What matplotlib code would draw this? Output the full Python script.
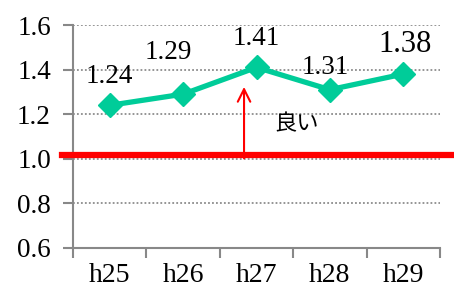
import matplotlib
matplotlib.use("Agg")
import matplotlib.pyplot as plt
import numpy as np

# data
years = ["h25", "h26", "h27", "h28", "h29"]
values = [1.24, 1.29, 1.41, 1.31, 1.38]
baseline = 1.015
y_ticks = [0.6, 0.8, 1.0, 1.2, 1.4, 1.6]
note_text = "良い"

# label offsets in pixels (manual placement like the original)
label_offsets = [(0, 29), (-15, 42), (0, 29), (-5, 22), (2, 30)]
label_sizes = [19.5, 19.5, 19.5, 19.5, 22]

plt.rcParams["font.family"] = "serif"
plt.rcParams["font.serif"] = ["Liberation Serif", "DejaVu Serif"]

GREEN = "#00CC99"
GREY = "#888888"

fig = plt.figure(figsize=(4.54, 2.91), dpi=100)
ax = fig.add_axes([0.161, 0.1478, 0.808, 0.7662])

x = np.arange(len(years))

# grid
for yv in y_ticks[1:]:
    ax.axhline(yv, color="#8c8c8c", lw=1.3, ls=(0, (1, 1.2)), zorder=1)

# red reference line, runs past the axes
ax.axhline(baseline, xmin=-0.03, xmax=1.04, color="#FF0000", lw=4.5,
           clip_on=False, zorder=3)

# arrow
ax.annotate("", xy=(1.83, 1.335), xytext=(1.83, 0.99),
            arrowprops=dict(arrowstyle="->,head_length=0.9,head_width=0.45",
                            color="#FF0000", lw=1.5),
            zorder=4)
ax.text(2.55, 1.156, note_text, fontsize=16, ha="center", va="center",
        family=["Noto Sans CJK JP", "DejaVu Sans"])

# series
ax.plot(x, values, color=GREEN, lw=3.8, marker="D", markersize=12,
        zorder=5, clip_on=False)

for xi, v, off, fs in zip(x, values, label_offsets, label_sizes):
    ax.annotate(f"{v:.2f}", xy=(xi, v), xytext=off, textcoords="offset pixels",
                ha="center", va="center", fontsize=fs)

ax.set_xlim(-0.5, len(years) - 0.5)
ax.set_ylim(0.6, 1.6)
ax.set_yticks(y_ticks)
ax.set_yticklabels([f"{t:.1f}" for t in y_ticks], fontsize=19.5)

ax.set_xticks(np.arange(-0.5, len(years)), labels=[])
ax.set_xticks(x, minor=True)
ax.set_xticklabels(years, minor=True, fontsize=20)
ax.tick_params(axis="x", which="major", length=7, color=GREY, width=1.5)
ax.tick_params(axis="x", which="minor", length=0, pad=11)
ax.tick_params(axis="y", length=7, color=GREY, width=1.5, pad=9)

for s in ["top", "right"]:
    ax.spines[s].set_visible(False)
for s in ["left", "bottom"]:
    ax.spines[s].set_color(GREY)
    ax.spines[s].set_linewidth(1.5)

fig.savefig("out.png", dpi=100)
